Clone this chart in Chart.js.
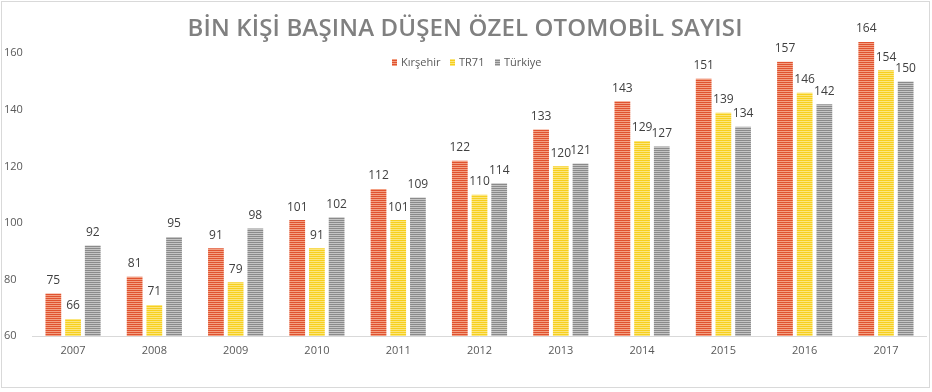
<!DOCTYPE html>
<html>
<head>
<meta charset="utf-8">
<script src="https://cdn.jsdelivr.net/npm/chart.js@4.4.1/dist/chart.umd.min.js"></script>
<style>
  html, body { margin: 0; padding: 0; background: #fff; }
  #wrap { width: 932px; height: 392px; position: relative; }
</style>
</head>
<body>
<div id="wrap"><canvas id="myChart" width="932" height="392"></canvas></div>
<script>
// yillar
var years = ['2007', '2008', '2009', '2010', '2011', '2012', '2013', '2014', '2015', '2016', '2017'];
// seriler
var kirsehir = [75, 81, 91, 101, 112, 122, 133, 143, 151, 157, 164];
var tr71 = [66, 71, 79, 91, 101, 110, 120, 129, 139, 146, 154];
var turkiye = [92, 95, 98, 102, 109, 114, 121, 127, 134, 142, 150];
var seriesNames = ['Kırşehir', 'TR71', 'Türkiye'];
var yTicks = [60, 80, 100, 120, 140, 160];
var chartTitle = 'BİN KİŞİ BAŞINA DÜŞEN ÖZEL OTOMOBİL SAYISI';

// cizgili dolgu (yatay)
function stripes(dark, light) {
  var c = document.createElement('canvas');
  c.width = 4; c.height = 2;
  var g = c.getContext('2d');
  g.fillStyle = light; g.fillRect(0, 0, 4, 2);
  g.fillStyle = dark; g.fillRect(0, 0, 4, 1);
  return document.getElementById('myChart').getContext('2d').createPattern(c, 'repeat');
}
var fills = [
  stripes('#e0522f', '#f3a083'),
  stripes('#f7cf1e', '#fbe67e'),
  stripes('#8a8a8a', '#c4c4c4')
];

var FONT = '"Open Sans", "DejaVu Sans", sans-serif';

var decor = {
  id: 'decor',
  beforeDraw: function(chart) {
    var c = chart.ctx;
    c.save();
    c.strokeStyle = '#d9d9d9';
    c.lineWidth = 1;
    c.strokeRect(1.5, 1.5, 928, 386);
    c.restore();
  },
  afterDatasetsDraw: function(chart) {
    var c = chart.ctx;
    c.save();
    // veri etiketleri
    c.font = '12px ' + FONT;
    c.fillStyle = '#404040';
    c.textAlign = 'center';
    c.textBaseline = 'middle';
    chart.data.datasets.forEach(function(ds, i) {
      chart.getDatasetMeta(i).data.forEach(function(bar, j) {
        c.fillText(ds.data[j], bar.x, bar.y - 13);
      });
    });
    // baslik
    c.font = '600 24px ' + FONT;
    c.fillStyle = '#808080';
    var w = c.measureText(chartTitle).width;
    var sp = (555 - w) / (chartTitle.length - 1);
    c.letterSpacing = sp + 'px';
    c.textAlign = 'center';
    c.textBaseline = 'alphabetic';
    c.fillText(chartTitle, 465 + sp / 2, 36);
    c.letterSpacing = '0px';
    // lejant
    c.font = '11px ' + FONT;
    c.textAlign = 'left';
    c.textBaseline = 'middle';
    var lx = [392, 450, 495];
    seriesNames.forEach(function(n, i) {
      c.fillStyle = fills[i];
      c.fillRect(lx[i], 59, 5, 7);
      c.fillStyle = '#595959';
      c.fillText(n, lx[i] + 9, 62.5);
    });
    c.restore();
  }
};

new Chart(document.getElementById('myChart'), {
  type: 'bar',
  data: {
    labels: years,
    datasets: [
      { label: seriesNames[0], data: kirsehir, backgroundColor: fills[0] },
      { label: seriesNames[1], data: tr71, backgroundColor: fills[1] },
      { label: seriesNames[2], data: turkiye, backgroundColor: fills[2] }
    ]
  },
  options: {
    responsive: false,
    animation: false,
    devicePixelRatio: 1,
    layout: { padding: { left: 4, right: 5.4, top: 25, bottom: 16 } },
    datasets: { bar: { categoryPercentage: 0.727, barPercentage: 0.8 } },
    plugins: { legend: { display: false }, title: { display: false }, tooltip: { enabled: false } },
    scales: {
      x: {
        grid: { display: false, drawTicks: false },
        border: { display: true, color: '#d9d9d9', width: 1 },
        ticks: { color: '#595959', font: { family: FONT, size: 11 }, padding: 8 },
        afterFit: function(s) { s.height = 40; }
      },
      y: {
        min: 60, max: 170,
        grid: { display: false, drawTicks: false },
        border: { display: false },
        ticks: { color: '#595959', font: { family: FONT, size: 11 }, crossAlign: 'far', padding: 4 },
        afterBuildTicks: function(s) { s.ticks = yTicks.map(function(v) { return { value: v }; }); },
        afterFit: function(s) { s.width = 28.4; }
      }
    }
  },
  plugins: [decor]
});
</script>
</body>
</html>
